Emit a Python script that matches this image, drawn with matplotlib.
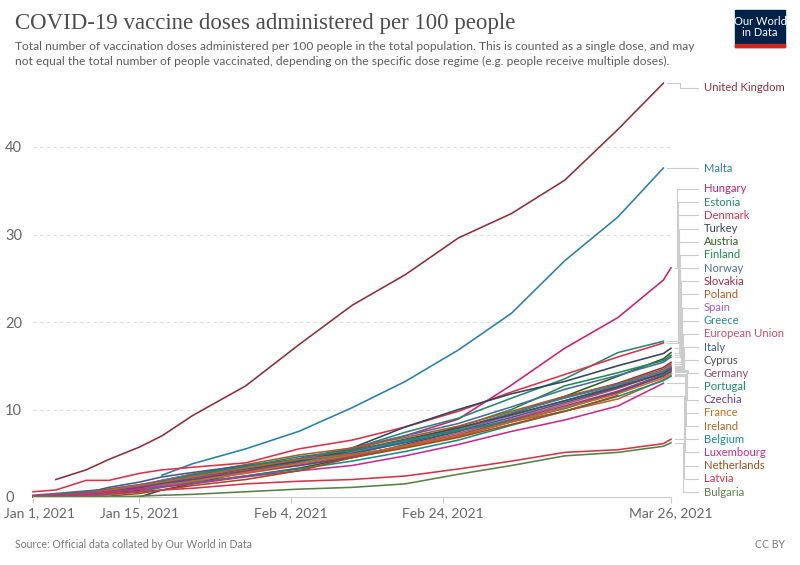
import matplotlib.pyplot as plt
from matplotlib.patches import Rectangle
from matplotlib.transforms import ScaledTranslation
import numpy as np

nan = np.nan

# days since Jan 1, 2021
days = [0, 3, 7, 10, 14, 17, 21, 28, 35, 42, 49, 56, 63, 70, 77, 83, 84]

tick_days = [0, 14, 34, 54, 84]
tick_labels = ['Jan 1, 2021', 'Jan 15, 2021', 'Feb 4, 2021', 'Feb 24, 2021', 'Mar 26, 2021']

united_kingdom = [nan, 2.0, 3.1, 4.3, 5.7, 7.0, 9.3, 12.7, 17.4, 21.9, 25.4, 29.6, 32.4, 36.2, 42.0, 47.3, nan]
malta = [nan, nan, nan, nan, nan, 2.5, 3.8, 5.5, 7.5, 10.2, 13.2, 16.8, 21.0, 27.0, 32.0, 37.6, nan]
hungary = [0.0, 0.1, 0.3, 0.5, 0.8, 1.2, 1.7, 3.0, 4.3, 5.4, 7.0, 8.9, 12.8, 17.0, 20.5, 24.8, 26.2]
estonia = [0.1, 0.2, 0.4, 0.6, 0.9, 1.3, 1.8, 2.8, 4.0, 5.5, 7.4, 9.0, 11.3, 13.5, 16.5, 17.8, nan]
denmark = [0.6, 0.8, 1.9, 1.9, 2.7, 3.1, 3.4, 3.9, 5.5, 6.5, 8.0, 9.8, 12.0, 14.0, 16.0, 17.6, nan]
turkey = [nan, nan, nan, nan, 0.0, 0.8, 1.5, 2.9, 4.0, 5.6, 8.0, 10.0, 11.8, 13.2, 15.0, 16.4, 17.0]
austria = [0.0, 0.1, 0.3, 0.5, 0.8, 1.2, 1.6, 2.4, 3.3, 4.5, 6.0, 7.5, 9.5, 11.5, 13.8, 15.8, 16.5]
finland = [0.1, 0.2, 0.4, 0.7, 1.0, 1.5, 1.9, 2.8, 3.8, 4.9, 6.3, 8.0, 10.0, 12.7, 14.2, 15.6, 16.2]
norway = [0.0, 0.2, 0.5, 0.8, 1.2, 1.8, 2.4, 3.3, 4.4, 5.6, 7.0, 8.4, 10.3, 12.3, 13.9, 15.4, 16.0]
slovakia = [0.1, 0.2, 0.4, 0.8, 1.2, 1.9, 2.6, 3.4, 4.2, 5.2, 6.4, 7.8, 9.6, 11.4, 13.0, 14.8, 15.4]
poland = [0.0, 0.1, 0.3, 0.7, 1.3, 1.9, 2.6, 3.7, 4.8, 5.6, 6.8, 8.1, 9.8, 11.5, 12.9, 14.6, 15.2]
spain = [0.0, 0.2, 0.5, 0.9, 1.4, 1.9, 2.5, 3.4, 4.3, 5.2, 6.4, 7.7, 9.3, 11.0, 12.7, 14.4, 15.0]
greece = [0.0, 0.1, 0.3, 0.6, 1.0, 1.5, 2.0, 3.0, 4.0, 5.0, 6.3, 7.8, 9.6, 11.3, 12.8, 14.4, 14.9]
european_union = [0.0, 0.1, 0.3, 0.6, 0.9, 1.3, 1.8, 2.7, 3.6, 4.6, 5.9, 7.3, 8.9, 10.6, 12.4, 14.2, 14.8]
italy = [0.0, 0.2, 0.5, 1.1, 1.7, 2.3, 2.8, 3.6, 4.3, 5.0, 6.2, 7.5, 9.1, 10.8, 12.5, 14.2, 14.7]
cyprus = [0.0, 0.1, 0.4, 0.8, 1.1, 1.6, 2.2, 3.2, 4.1, 5.3, 6.6, 7.9, 9.4, 11.0, 12.6, 14.1, 14.6]
germany = [0.2, 0.4, 0.7, 0.9, 1.4, 1.8, 2.2, 3.0, 3.8, 4.7, 5.8, 7.1, 8.8, 10.4, 12.1, 14.0, 14.5]
portugal = [0.1, 0.3, 0.6, 0.8, 1.2, 1.8, 2.5, 3.5, 4.6, 5.3, 6.5, 7.6, 8.7, 10.1, 11.9, 13.9, 14.4]
czechia = [0.0, 0.1, 0.3, 0.6, 1.1, 1.6, 2.0, 2.9, 3.6, 4.5, 5.7, 7.0, 8.6, 10.2, 12.0, 13.8, 14.3]
france = [0.0, 0.0, 0.1, 0.3, 0.6, 1.2, 1.8, 2.8, 3.8, 4.8, 5.8, 7.0, 8.6, 10.2, 11.8, 13.6, 14.1]
ireland = [0.0, 0.1, 0.4, 0.8, 1.3, 1.7, 2.3, 3.3, 4.3, 4.9, 5.7, 6.9, 8.6, 9.8, 11.2, 13.4, 13.9]
belgium = [0.0, 0.0, 0.1, 0.3, 0.6, 1.1, 1.6, 2.4, 3.2, 4.1, 5.2, 6.5, 8.2, 9.8, 11.5, 13.3, 13.8]
luxembourg = [0.1, 0.2, 0.4, 0.6, 0.9, 1.2, 1.5, 2.3, 3.0, 3.6, 4.7, 6.0, 7.5, 8.8, 10.4, 13.0, nan]
netherlands = [nan, nan, 0.0, 0.1, 0.4, 0.8, 1.3, 2.0, 3.0, 4.5, 5.6, 6.8, 8.3, 9.8, 11.6, nan, nan]
latvia = [0.0, 0.1, 0.2, 0.4, 0.6, 0.8, 1.0, 1.5, 1.8, 2.0, 2.4, 3.2, 4.1, 5.1, 5.4, 6.1, 6.6]
bulgaria = [0.0, 0.0, 0.0, 0.0, 0.1, 0.2, 0.3, 0.6, 0.9, 1.1, 1.5, 2.6, 3.6, 4.7, 5.1, 5.8, 6.2]

countries = ['United Kingdom', 'Malta', 'Hungary', 'Estonia', 'Denmark', 'Turkey', 'Austria',
             'Finland', 'Norway', 'Slovakia', 'Poland', 'Spain', 'Greece', 'European Union',
             'Italy', 'Cyprus', 'Germany', 'Portugal', 'Czechia', 'France', 'Ireland', 'Belgium',
             'Luxembourg', 'Netherlands', 'Latvia', 'Bulgaria']
series = [united_kingdom, malta, hungary, estonia, denmark, turkey, austria, finland, norway,
          slovakia, poland, spain, greece, european_union, italy, cyprus, germany, portugal,
          czechia, france, ireland, belgium, luxembourg, netherlands, latvia, bulgaria]
colors = ['#883039', '#2a7fa6', '#c7216f', '#2a8570', '#d8334a', '#34435e', '#2f5f1f',
          '#1f8a4c', '#4c6a9c', '#9a2f45', '#b05a2a', '#a45bbd', '#2a8aa3', '#d04e6d',
          '#3e5a8a', '#4a4a4a', '#8e4b6f', '#1a8a6a', '#6d3e91', '#c76e1f', '#b9652a',
          '#1b8a8a', '#c2308f', '#a0501a', '#d0364a', '#578145']

fig = plt.figure(figsize=(8, 5.65), dpi=100)
ax = fig.add_axes([33 / 800, 1 - 497 / 565, (671 - 33) / 800, 48 * 8.75 / 565])

x = np.array(days, dtype=float)
for vals, c in zip(series, colors):
    ax.plot(x, vals, color=c, lw=1.15, solid_joinstyle='round', clip_on=False)

ax.set_xlim(0, 84)
ax.set_ylim(0, 48)
ax.set_xticks(tick_days)
ax.set_xticklabels(tick_labels, family='Lato')
ax.set_yticks([0, 10, 20, 30, 40])
ax.set_yticklabels(['0', '10', '20', '30', '40'], family='Lato')
ax.tick_params(axis='y', length=0, pad=20, labelsize=10.5, labelcolor='#666666')
for lab in ax.get_yticklabels():
    lab.set_horizontalalignment('left')
ax.tick_params(axis='x', length=4, width=0.8, color='#cccccc', labelsize=10,
               labelcolor='#666666', pad=3)
first = ax.xaxis.get_major_ticks()[0].label1
first.set_transform(first.get_transform() + ScaledTranslation(0.06, 0, fig.dpi_scale_trans))
ax.yaxis.grid(True, color='#dddddd', ls=(0, (3, 3)), lw=0.8)
for s in ['top', 'right', 'left']:
    ax.spines[s].set_visible(False)
ax.spines['bottom'].set_color('#cccccc')

# labels with elbow connectors on the right
px = 8.75  # pixels per unit
ends = []
for vals in series:
    v = np.array(vals, dtype=float)
    i = np.where(~np.isnan(v))[0][-1]
    ends.append((x[i], v[i]))
label_y = [ends[0][1] - 0.5, ends[1][1]]
label_y += list(np.linspace((497 - 189) / px, (497 - 492) / px, len(series) - 2))


def day_x(px_x):
    return (px_x - 33) / (671 - 33) * 84


gap = day_x(37) - day_x(33)
up_i = 0
for k in range(len(series)):
    ex, ey = ends[k]
    ly = label_y[k]
    if k < 2:
        xm = day_x(680)
    elif ly > ey:
        xm = day_x(677 + up_i * 0.55)
        up_i += 1
    else:
        continue
    ax.plot([ex + gap, xm, xm, day_x(698)], [ey, ey, ly, ly],
            color='#cccccc', lw=0.8, clip_on=False, zorder=0)
down = [k for k in range(2, len(series)) if label_y[k] <= ends[k][1]]
for j, k in enumerate(reversed(down)):
    ex, ey = ends[k]
    ly = label_y[k]
    xm = day_x(683 + j * 0.55)
    ax.plot([ex + gap, xm, xm, day_x(698)], [ey, ey, ly, ly],
            color='#cccccc', lw=0.8, clip_on=False, zorder=0)
for k, (name, c) in enumerate(zip(countries, colors)):
    ax.text(day_x(704), label_y[k], name, color=c, fontsize=8.1, family='Lato',
            va='center', ha='left', clip_on=False)

# header
fig.text(15 / 800, 1 - 24 / 565, 'COVID-19 vaccine doses administered per 100 people',
         family='Liberation Serif', fontsize=16.5, color='#4d4d4d', va='center')
fig.text(15 / 800, 1 - 46 / 565,
         'Total number of vaccination doses administered per 100 people in the total population. '
         'This is counted as a single dose, and may',
         family='Lato', fontsize=8.65, color='#5b5b5b', va='center')
fig.text(15 / 800, 1 - 61 / 565,
         'not equal the total number of people vaccinated, depending on the specific dose regime '
         '(e.g. people receive multiple doses).',
         family='Lato', fontsize=8.65, color='#5b5b5b', va='center')

# logo
fig.patches.append(Rectangle((735 / 800, 1 - 47 / 565), 50 / 800, 37 / 565,
                             transform=fig.transFigure, color='#002147'))
fig.patches.append(Rectangle((735 / 800, 1 - 47 / 565), 50 / 800, 3 / 565,
                             transform=fig.transFigure, color='#ce261e'))
fig.text(760 / 800, 1 - 27 / 565, 'Our World\nin Data', color='white', fontsize=8,
         family='Lato', ha='center', va='center', linespacing=1.0)

# footer
fig.text(15 / 800, 1 - 545 / 565, 'Source: Official data collated by Our World in Data',
         family='Lato', fontsize=7.6, color='#777777', va='center')
fig.text(785 / 800, 1 - 545 / 565, 'CC BY', family='Lato',
         fontsize=7.6, color='#777777', va='center', ha='right')

fig.savefig('out.png', dpi=100)
